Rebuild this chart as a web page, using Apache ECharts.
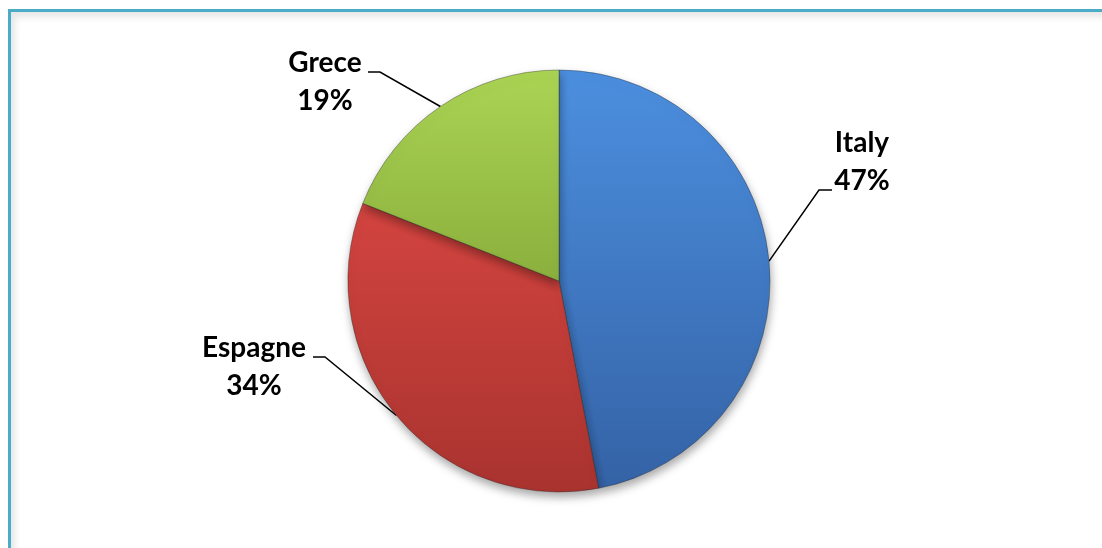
<!DOCTYPE html>
<html>
<head>
<meta charset="utf-8">
<script src="https://cdn.jsdelivr.net/npm/echarts@6/dist/echarts.min.js"></script>
<style>
html,body{margin:0;padding:0;width:1102px;height:548px;overflow:hidden;background:#fff;}
#frame{position:absolute;left:8px;top:9px;width:1200px;height:700px;border:3px solid #4aacc6;box-shadow:inset 4px 5px 7px rgba(0,0,0,0.10);}
#chart{position:absolute;left:0;top:0;width:1102px;height:548px;}
</style>
</head>
<body>
<div id="frame"></div>
<div id="chart"></div>
<script>
const categories = ['Italy', 'Espagne', 'Grece'];
const values = [47, 34, 19];

// top / bottom colours of the vertical shading for each slice
const palette = [
  ['#4c8fdf', '#3462a5'],
  ['#e64c47', '#a9332f'],
  ['#abd454', '#6a8a25']
];

// label placement (text centre and elbow of label line), in pixels
const labelLayoutCfg = [
  { x: 862, y: 162, elbow: [819, 190], end: [832, 190] },
  { x: 254, y: 367, elbow: [325, 357], end: [313, 357] },
  { x: 325, y: 82, elbow: [380, 72], end: [368, 72] }
];

const cx = 559, cy = 281, R = 211;
const total = values.reduce((a, b) => a + b, 0);

function midPoint(i) {
  let before = 0;
  for (let k = 0; k < i; k++) before += values[k];
  const frac = (before + values[i] / 2) / total;
  const ang = frac * 2 * Math.PI;
  return [cx + R * Math.sin(ang), cy - R * Math.cos(ang)];
}

const chart = echarts.init(document.getElementById('chart'), null, { renderer: 'canvas' });
chart.setOption({
  backgroundColor: 'transparent',
  animation: false,
  series: [{
    type: 'pie',
    center: [cx, cy],
    radius: R,
    startAngle: 90,
    clockwise: true,
    data: categories.map((c, i) => ({
      name: c,
      value: values[i],
      itemStyle: {
        color: {
          type: 'linear', x: 0, y: cy - R, x2: 0, y2: cy + R, global: true,
          colorStops: [
            { offset: 0, color: palette[i][0] },
            { offset: 1, color: palette[i][1] }
          ]
        }
      }
    })),
    itemStyle: {
      borderColor: 'rgba(30,30,30,0.45)',
      borderWidth: 0.8,
      shadowBlur: 10,
      shadowOffsetY: 5,
      shadowOffsetX: 1,
      shadowColor: 'rgba(0,0,0,0.35)'
    },
    label: {
      show: true,
      formatter: '{b}\n{d}%',
      fontFamily: 'Lato',
      fontWeight: 'bold',
      fontSize: 28,
      lineHeight: 38,
      color: '#000',
      align: 'center'
    },
    labelLine: {
      show: true,
      lineStyle: { color: '#000', width: 1.5 }
    },
    labelLayout: function (params) {
      const i = params.dataIndex;
      const cfg = labelLayoutCfg[i];
      return {
        x: cfg.x,
        y: cfg.y,
        align: 'center',
        verticalAlign: 'middle',
        labelLinePoints: [midPoint(i), cfg.elbow, cfg.end]
      };
    }
  }]
});
</script>
</body>
</html>
